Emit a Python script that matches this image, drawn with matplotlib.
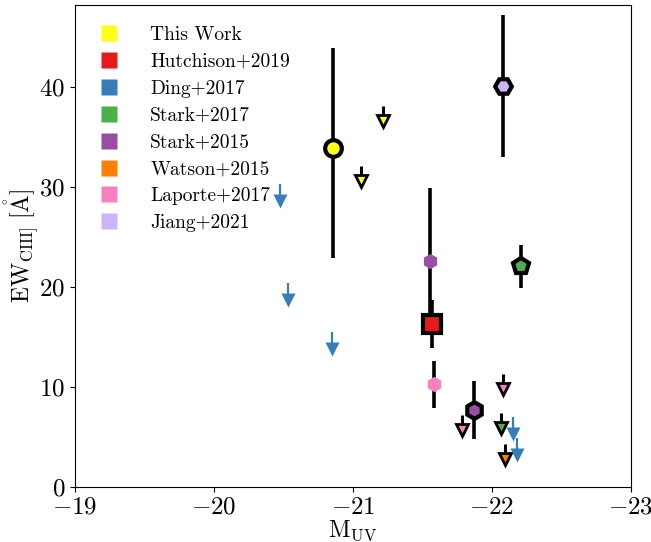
import matplotlib
matplotlib.use("Agg")
import matplotlib.pyplot as plt
from matplotlib.lines import Line2D

plt.rcParams['font.family'] = 'serif'
plt.rcParams['font.serif'] = ['cmr10']
plt.rcParams['mathtext.fontset'] = 'cm'
plt.rcParams['axes.formatter.use_mathtext'] = True

# colours per sample
c_this = '#ffff1a'
c_hut = '#e41a1c'
c_ding = '#377eb8'
c_s17 = '#4daf4a'
c_s15 = '#984ea3'
c_wat = '#ff7f00'
c_lap = '#f781bf'
c_jia = '#cbb4fa'

labels = ['This Work', 'Hutchison+2019', 'Ding+2017', 'Stark+2017',
          'Stark+2015', 'Watson+2015', 'Laporte+2017', 'Jiang+2021']
colors = [c_this, c_hut, c_ding, c_s17, c_s15, c_wat, c_lap, c_jia]

# detections: (M_UV, EW, err)
this_m, this_ew, this_lo, this_hi = [-20.856], [33.9], [11.0], [10.0]
hut_m, hut_ew, hut_err = [-21.568], [16.3], [2.4]
s17_m, s17_ew, s17_err = [-22.209], [22.1], [2.15]
s15_m, s15_ew, s15_err = [-21.554, -21.871], [22.6, 7.7], [7.3, 2.9]
lap_m, lap_ew, lap_err = [-21.583], [10.3], [2.35]
jia_m, jia_ew, jia_err = [-22.079], [40.1], [7.1]

# upper limits
this_lim_m, this_lim_ew = [-21.216, -21.058], [36.6, 30.6]
lap_lim_m, lap_lim_ew = [-21.784, -22.079], [5.7, 9.8]
s17_lim_m, s17_lim_ew = [-22.065], [5.9]
wat_lim_m, wat_lim_ew = [-22.094], [2.8]
ding_lim_m = [-20.475, -20.53, -20.85, -22.151, -22.18]
ding_lim_ew = [28.6, 18.7, 13.8, 5.3, 3.2]

fig = plt.figure(figsize=(6.51, 5.42), dpi=100)
ax = fig.add_axes([0.115, 0.1015, 0.854, 0.889])

ebkw = dict(ecolor='k', elinewidth=2.6, capsize=0, linestyle='none')

ax.errorbar(s15_m[0], s15_ew[0], yerr=s15_err[0], marker='h', ms=11,
            mfc=c_s15, mec='none', zorder=3, **ebkw)
ax.errorbar(this_m, this_ew, yerr=[this_lo, this_hi], marker='o', ms=12,
            mfc=c_this, mec='k', mew=3, zorder=4, **ebkw)
ax.errorbar(hut_m, hut_ew, yerr=hut_err, marker='s', ms=13, mfc=c_hut,
            mec='k', mew=3, zorder=4, **ebkw)
ax.errorbar(s17_m, s17_ew, yerr=s17_err, marker='p', ms=12, mfc=c_s17,
            mec='k', mew=3, zorder=4, **ebkw)
ax.errorbar(s15_m[1], s15_ew[1], yerr=s15_err[1], marker='h', ms=12,
            mfc=c_s15, mec='k', mew=3, zorder=4, **ebkw)
ax.errorbar(lap_m, lap_ew, yerr=lap_err, marker='h', ms=11, mfc=c_lap,
            mec='none', zorder=3, **ebkw)
ax.errorbar(jia_m, jia_ew, yerr=jia_err, marker='H', ms=12, mfc=c_jia,
            mec='k', mew=3, zorder=4, **ebkw)


def black_limit(m, ew, col):
    ax.vlines(m, ew, [e + 1.5 for e in ew], color='k', lw=2.2, zorder=4)
    ax.plot(m, ew, 'v', ms=9, mfc=col, mec='k', mew=2, ls='none', zorder=5)


black_limit(this_lim_m, this_lim_ew, c_this)
black_limit(lap_lim_m, lap_lim_ew, c_lap)
black_limit(s17_lim_m, s17_lim_ew, c_s17)
black_limit(wat_lim_m, wat_lim_ew, c_wat)

ax.vlines(ding_lim_m, ding_lim_ew, [e + 1.7 for e in ding_lim_ew], color=c_ding,
          lw=1.6, zorder=5)
ax.plot(ding_lim_m, ding_lim_ew, 'v', ms=10.5, mfc=c_ding, mec='none', ls='none',
        zorder=5)

ax.set_xlim(-19, -23)
ax.set_ylim(0, 48.2)
ax.set_xticks([-19, -20, -21, -22, -23])
ax.set_yticks([0, 10, 20, 30, 40])
ax.tick_params(labelsize=18)
ax.set_xlabel(r'$\mathrm{M}_{\mathrm{UV}}$', fontsize=17, labelpad=0)
ax.set_ylabel(r'$\mathrm{EW}_{\mathrm{CIII]}}\ [\mathring{\mathrm{A}}]$',
              fontsize=17, labelpad=-1)

handles = [Line2D([], [], marker='s', ms=12, mfc=c, mec='none', ls='none')
           for c in colors]
ax.legend(handles, labels, loc='upper left', frameon=False, fontsize=14,
          handlelength=1.0, handletextpad=1.6, labelspacing=0.46,
          borderaxespad=0.3, bbox_to_anchor=(0.02, 0.985))

fig.savefig('out.png', dpi=100)
